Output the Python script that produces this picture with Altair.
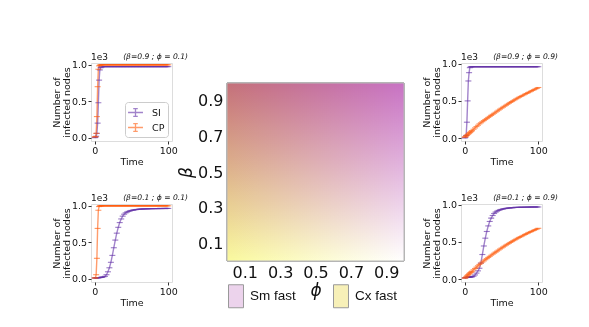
import altair as alt
import pandas as pd

# ---------------- data ----------------
T = [0, 1, 2, 3, 4, 5, 6, 7, 8, 9, 10] + list(range(12, 101, 2))

SI_TL = [0, 5, 20, 60, 200, 480, 790, 930, 960, 970, 973,
         975, 975, 975, 975, 975, 975, 975, 975, 975, 975,
         975, 975, 975, 975, 975, 975, 975, 975, 975, 975,
         975, 975, 975, 975, 975, 975, 975, 975, 975, 975,
         975, 975, 975, 975, 975, 975, 975, 975, 975, 975,
         975, 975, 975, 975, 975]
CP_TL = [10, 15, 60, 290, 700, 940, 985, 995, 1000, 1000, 1000,
         1000, 1000, 1000, 1000, 1000, 1000, 1000, 1000, 1000, 1000,
         1000, 1000, 1000, 1000, 1000, 1000, 1000, 1000, 1000, 1000,
         1000, 1000, 1000, 1000, 1000, 1000, 1000, 1000, 1000, 1000,
         1000, 1000, 1000, 1000, 1000, 1000, 1000, 1000, 1000, 1000,
         1000, 1000, 1000, 1000, 1000]

SI_BL = [10, 11, 12, 12, 13, 14, 15, 16, 17, 19, 21,
         26, 33, 55, 95, 150, 225, 320, 425, 530, 625,
         705, 770, 820, 858, 885, 903, 915, 924, 931, 937,
         941, 945, 948, 951, 953, 955, 956, 957, 958, 959,
         960, 960, 961, 961, 962, 962, 962, 963, 963, 963,
         963, 964, 964, 964, 964]
CP_BL = [10, 12, 55, 280, 690, 940, 990, 1000, 1000, 1000, 1000,
         1000, 1000, 1000, 1000, 1000, 1000, 1000, 1000, 1000, 1000,
         1000, 1000, 1000, 1000, 1000, 1000, 1000, 1000, 1000, 1000,
         1000, 1000, 1000, 1000, 1000, 1000, 1000, 1000, 1000, 1000,
         1000, 1000, 1000, 1000, 1000, 1000, 1000, 1000, 1000, 1000,
         1000, 1000, 1000, 1000, 1000]

SI_TR = [0, 10, 35, 213, 500, 768, 880, 947, 957, 960, 960,
         960, 960, 960, 960, 960, 960, 960, 960, 960, 960,
         960, 960, 960, 960, 960, 960, 960, 960, 960, 960,
         960, 960, 960, 960, 960, 960, 960, 960, 960, 960,
         960, 960, 960, 960, 960, 960, 960, 960, 960, 960,
         960, 960, 960, 960, 960]
CP_TR = [10, 19, 28, 37, 46, 55, 64, 73, 82, 91, 100,
         118, 136, 154, 172, 190, 205, 220, 235, 249, 263,
         277, 291, 305, 319, 333, 347, 361, 375, 389, 402,
         415, 428, 441, 454, 467, 479, 491, 503, 515, 527,
         538, 549, 560, 570, 580, 590, 600, 610, 620, 630,
         640, 650, 660, 670, 680]

SI_BR = [15, 18, 20, 22, 24, 25, 26, 27, 28, 29, 30,
         38, 55, 80, 110, 145, 215, 330, 445, 550, 640,
         715, 775, 820, 855, 882, 900, 914, 924, 932, 938,
         943, 947, 951, 954, 956, 958, 960, 962, 963, 964,
         965, 966, 966, 967, 967, 968, 968, 968, 969, 969,
         969, 970, 970, 970, 970]
CP_BR = [10, 20, 30, 40, 50, 60, 70, 79, 88, 97, 106,
         124, 142, 160, 178, 196, 212, 228, 244, 260, 275,
         290, 305, 320, 334, 348, 362, 376, 390, 404, 417,
         430, 443, 456, 468, 480, 492, 504, 516, 527, 538,
         549, 560, 570, 580, 590, 600, 610, 620, 629, 638,
         647, 656, 665, 674, 683]

SERIES = ["SI", "CP"]
PANEL_TITLES = ["(β=0.9 ; ϕ = 0.1)", "(β=0.1 ; ϕ = 0.1)",
                "(β=0.9 ; ϕ = 0.9)", "(β=0.1 ; ϕ = 0.9)"]
X_TICKS = [0, 100]
Y_TICKS = [0, 500, 1000]
SCALE_LABEL = ["1e3"]

PHI_TICKS = [0.1, 0.3, 0.5, 0.7, 0.9]
BETA_TICKS = [0.1, 0.3, 0.5, 0.7, 0.9]
PHI_RANGE = [0.0, 1.0]
BETA_RANGE = [0.0, 1.0]
LEGEND_NAMES = ["Sm fast", "Cx fast"]

PURPLE = "#6432a8"
ORANGE = "#ff5a0a"
FONT = "DejaVu Sans"
FRAME = "#b8b8b8"


def small_panel(si, cp, title, ydom, with_legend=False, w=81, h=78):
    n = len(T)
    df = pd.DataFrame({"t": T + T, "v": si + cp, "s": [SERIES[0]] * n + [SERIES[1]] * n})
    cscale = alt.Scale(domain=SERIES, range=[PURPLE, ORANGE])
    leg = None
    if with_legend:
        leg = alt.Legend(orient="bottom-right", title=None,
                         symbolType="M-1.15,0H1.15M0,-0.6V0.6M-0.35,-0.6H0.35M-0.35,0.6H0.35",
                         symbolSize=169, symbolStrokeWidth=1.3, symbolOpacity=0.6,
                         symbolFillColor="transparent",
                         labelFont=FONT, labelFontSize=9.5, labelColor="#111",
                         fillColor="white", strokeColor="#cccccc", cornerRadius=3,
                         padding=3, offset=4, rowPadding=1, labelOffset=9)
    x = alt.X("t:Q", scale=alt.Scale(domain=[-5, 105], nice=False, zero=False),
              axis=alt.Axis(values=X_TICKS, title="Time", grid=False, domain=False,
                            tickSize=3, tickColor="#333", labelFont=FONT, labelFontSize=9.5,
                            labelColor="#111", labelPadding=1, titleFont=FONT,
                            titleFontSize=9.5, titleFontWeight="normal", titleColor="#111",
                            titlePadding=2, labelFlush=False))
    y = alt.Y("v:Q", scale=alt.Scale(domain=ydom, nice=False, zero=False),
              axis=alt.Axis(values=Y_TICKS, labelExpr="format(datum.value/1000, '.1f')",
                            title=["Number of", "infected nodes"], grid=False, domain=False,
                            tickSize=3, tickColor="#333", labelFont=FONT, labelFontSize=9.5,
                            labelColor="#111", labelPadding=1.5, titleFont=FONT,
                            titleFontSize=9.5, titleFontWeight="normal", titleColor="#111",
                            titlePadding=0, titleLineHeight=9.5))
    base = alt.Chart(df)
    line = base.mark_line(strokeWidth=1.4, opacity=0.6).encode(
        x=x, y=y, color=alt.Color("s:N", scale=cscale, legend=leg))
    ticks = base.mark_tick(orient="horizontal", size=6, thickness=1.1, opacity=0.65).encode(
        x=x, y=y, color=alt.Color("s:N", scale=cscale, legend=None))
    lab = alt.Chart(pd.DataFrame({"lab": SCALE_LABEL})).mark_text(
        align="left", baseline="alphabetic", font=FONT, fontSize=9, color="#111"
    ).encode(x=alt.value(0), y=alt.value(-3), text="lab:N")
    ttl = alt.Chart(pd.DataFrame({"lab": [title]})).mark_text(
        align="right", baseline="alphabetic", font=FONT, fontSize=7.6, fontStyle="italic",
        color="#111"
    ).encode(x=alt.value(w + 16), y=alt.value(-4), text="lab:N")
    return alt.layer(line, ticks, lab, ttl).properties(width=w, height=h)


tl = small_panel(SI_TL, CP_TL, PANEL_TITLES[0], [-45, 1025], with_legend=True)
bl = small_panel(SI_BL, CP_BL, PANEL_TITLES[1], [-45, 1025])
tr = small_panel(SI_TR, CP_TR, PANEL_TITLES[2], [-40, 1010])
br = small_panel(SI_BR, CP_BR, PANEL_TITLES[3], [-40, 1010])

# ---------------- heat map ----------------
heat_df = pd.DataFrame({"phi0": [PHI_RANGE[0]], "phi1": [PHI_RANGE[1]],
                        "beta0": [BETA_RANGE[0]], "beta1": [BETA_RANGE[1]]})
leg_df = pd.DataFrame({"name": LEGEND_NAMES,
                       "phi0": [PHI_RANGE[0]] * 2, "phi1": [PHI_RANGE[1]] * 2,
                       "beta0": [BETA_RANGE[0]] * 2, "beta1": [BETA_RANGE[1]] * 2})

HEAT_W, HEAT_H, HEAT_TOP_GAP = 177, 178, 20

xh = alt.X("phi0:Q", scale=alt.Scale(domain=PHI_RANGE, nice=False, zero=False),
           axis=alt.Axis(values=PHI_TICKS, format=".1f", title="ϕ", grid=False, domain=False,
                         ticks=False, labelFont=FONT, labelFontSize=16, labelColor="#111",
                         labelPadding=3, titleFont=FONT, titleFontSize=17,
                         titleFontStyle="italic", titleFontWeight="normal",
                         titleColor="#111", titlePadding=2))
yh = alt.Y("beta0:Q",
           scale=alt.Scale(domain=BETA_RANGE, range=[HEAT_H + HEAT_TOP_GAP, HEAT_TOP_GAP],
                           nice=False, zero=False),
           axis=alt.Axis(values=BETA_TICKS, format=".1f", title="β", grid=False, domain=False,
                         ticks=False, labelFont=FONT, labelFontSize=16, labelColor="#111",
                         labelPadding=4, titleFont=FONT, titleFontSize=17,
                         titleFontStyle="italic", titleFontWeight="normal",
                         titleColor="#111", titlePadding=2))

dummy = alt.Chart(leg_df).mark_rect(stroke="#999999", strokeWidth=1).encode(
    x=xh, x2="phi1", y=yh, y2="beta1",
    color=alt.Color("name:N", scale=alt.Scale(domain=LEGEND_NAMES, range=["#ecd3ec", "#f7f0b8"]),
                    legend=alt.Legend(orient="none", legendX=-3,
                                      legendY=HEAT_H + HEAT_TOP_GAP + 23,
                                      direction="horizontal", title=None,
                                      symbolType="M-0.652,-1H0.652V1H-0.652Z", symbolSize=529,
                                      symbolStrokeColor="#999999", symbolStrokeWidth=1,
                                      symbolOpacity=1, labelFont="Liberation Sans",
                                      labelFontSize=13.5, labelColor="#111", labelOffset=2,
                                      columnPadding=33, padding=0, symbolOffset=0)))

yellow = alt.Chart(heat_df).mark_rect(
    color={"gradient": "linear", "x1": 0, "y1": 0, "x2": 1, "y2": 0,
           "stops": [{"offset": 0, "color": "#fafa9e"}, {"offset": 1, "color": "#ffffff"}]}
).encode(x=xh, x2="phi1", y=yh, y2="beta1")

pink = alt.Chart(heat_df).mark_rect(
    blend="multiply",
    color={"gradient": "linear", "x1": 0, "y1": 1, "x2": 0, "y2": 0,
           "stops": [{"offset": 0, "color": "#ffffff"}, {"offset": 1, "color": "#c872c4"}]}
).encode(x=xh, x2="phi1", y=yh, y2="beta1")

frame = alt.Chart(heat_df).mark_rect(fill="transparent", stroke=FRAME, strokeWidth=1).encode(
    x=xh, x2="phi1", y=yh, y2="beta1")

heat = alt.layer(dummy, yellow, pink, frame).properties(
    width=HEAT_W, height=HEAT_H + HEAT_TOP_GAP,
    view=alt.ViewBackground(stroke="transparent"))

left = alt.vconcat(tl, bl, spacing=26).resolve_scale(color="independent")
right = alt.vconcat(tr, br, spacing=26).resolve_scale(color="independent")
inner = alt.hconcat(left, heat, spacing=-12).resolve_scale(color="independent")
chart = alt.hconcat(inner, right, spacing=16).resolve_scale(color="independent").properties(
    padding={"left": 43, "top": 44, "right": 5, "bottom": 5}
).configure_view(stroke=FRAME).configure(background="white")

chart.save("out.html", embed_options={"renderer": "svg", "actions": False})
